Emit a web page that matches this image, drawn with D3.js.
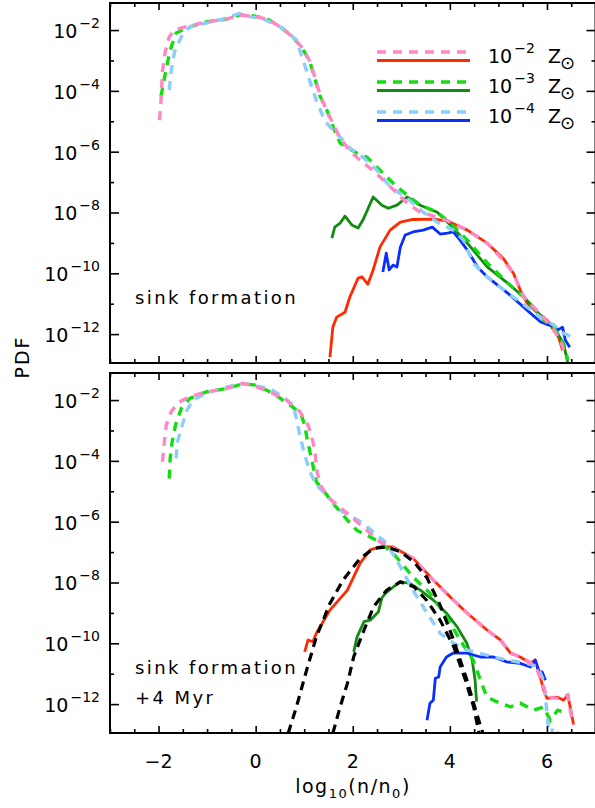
<!DOCTYPE html>
<html><head><meta charset="utf-8">
<script src="https://cdn.jsdelivr.net/npm/d3@7"></script>
<style>
body{margin:0;background:#fff}
svg{display:block}
text{font-family:"DejaVu Sans",sans-serif;fill:#000}
</style>
</head><body>
<svg id="c" width="595" height="808"></svg>
<script>
// ---------------- DATA (x = log10(n/n0), y = log10(PDF)) ----------------
const xMajorTicks = [-2, 0, 2, 4, 6];
const yMajorExps = [-2, -4, -6, -8, -10, -12];
const yMinorExps = [-3, -5, -7, -9, -11];
const legendExps = ["−2", "−3", "−4"];
const panelLabels = [["sink formation"], ["sink formation", "+4 Myr"]];

const topDash2 = [[-1.98,-4.96],[-1.95,-4.36],[-1.92,-3.37],[-1.86,-2.71],[-1.78,-2.22],[-1.67,-2.0],[-1.51,-1.92],[-1.01,-1.73],[-0.60,-1.64],[-0.33,-1.51],[-0.06,-1.54],[0.23,-1.64],[0.50,-1.89],[0.76,-2.22],[0.97,-2.60],[1.12,-3.04],[1.22,-3.55],[1.32,-4.10],[1.45,-4.60],[1.60,-5.10],[1.74,-5.55],[1.94,-5.98],[2.15,-6.28],[2.40,-6.60],[2.63,-6.93],[2.90,-7.35],[3.12,-7.69],[3.39,-7.99],[3.80,-8.18],[4.07,-8.35],[4.42,-8.64],[4.77,-9.01],[5.10,-9.57],[5.31,-10.0],[5.52,-10.78],[5.72,-11.11],[5.93,-11.44],[6.14,-11.87],[6.28,-12.2],[6.34,-12.53]];
const topSolid2 = [[1.53,-12.76],[1.59,-11.77],[1.67,-11.44],[1.84,-11.28],[1.94,-10.78],[2.11,-10.16],[2.19,-10.12],[2.31,-10.36],[2.42,-9.89],[2.56,-9.14],[2.77,-8.58],[2.98,-8.32],[3.24,-8.23],[3.66,-8.22],[3.95,-8.28],[4.36,-8.58],[4.77,-9.01],[5.10,-9.51],[5.31,-10.0],[5.45,-10.55],[5.59,-10.98],[5.79,-11.28],[6.0,-11.54],[6.14,-11.87],[6.24,-12.1],[6.32,-12.53]];
const topDash3 = [[-1.95,-4.19],[-1.86,-3.42],[-1.76,-2.66],[-1.64,-2.10],[-1.43,-1.93],[-1.01,-1.73],[-0.60,-1.64],[-0.33,-1.50],[-0.06,-1.53],[0.23,-1.63],[0.50,-1.88],[0.76,-2.22],[0.97,-2.62],[1.12,-3.06],[1.22,-3.6],[1.32,-4.15],[1.47,-4.65],[1.60,-5.2],[1.74,-5.72],[2.09,-6.05],[2.29,-6.18],[2.56,-6.61],[2.83,-7.03],[3.12,-7.43],[3.39,-7.76],[3.74,-7.99],[4.01,-8.35],[4.36,-8.91],[4.77,-9.66],[5.19,-10.32],[5.52,-10.78],[5.72,-11.11],[5.93,-11.54],[6.14,-11.77],[6.34,-12.3],[6.43,-12.86]];
const topSolid3 = [[1.57,-8.84],[1.63,-8.48],[1.74,-8.35],[1.84,-8.12],[1.98,-8.41],[2.11,-8.51],[2.21,-8.25],[2.42,-7.49],[2.60,-7.76],[2.73,-7.86],[2.91,-7.76],[3.12,-7.49],[3.39,-7.76],[3.74,-7.99],[4.01,-8.41],[4.36,-9.01],[4.77,-9.79],[5.19,-10.32],[5.52,-10.78],[5.72,-11.11],[5.93,-11.54],[6.14,-11.77],[6.34,-12.3],[6.43,-12.95]];
const topDash4 = [[-1.78,-3.97],[-1.74,-3.37],[-1.67,-2.71],[-1.53,-2.22],[-1.36,-1.89],[-1.02,-1.77],[-0.68,-1.64],[-0.33,-1.45],[-0.12,-1.56],[0.14,-1.62],[0.56,-1.94],[0.84,-2.33],[1.01,-3.15],[1.12,-3.70],[1.26,-4.36],[1.43,-5.0],[1.59,-5.29],[1.74,-5.52],[1.94,-5.88],[2.21,-6.18],[2.50,-6.61],[2.77,-7.16],[3.12,-7.53],[3.45,-7.99],[3.74,-8.32],[4.07,-8.58],[4.28,-8.91],[4.48,-9.66],[4.77,-10.12],[5.19,-10.65],[5.59,-11.11],[5.87,-11.44],[6.14,-11.7],[6.34,-11.97],[6.53,-12.1]];
const topSolid4 = [[2.62,-9.96],[2.69,-9.34],[2.75,-9.89],[2.83,-9.73],[2.91,-9.79],[2.98,-9.14],[3.08,-8.74],[3.24,-8.64],[3.45,-8.58],[3.64,-8.48],[3.80,-8.71],[3.95,-8.68],[4.07,-8.64],[4.21,-8.91],[4.36,-9.24],[4.57,-9.79],[4.77,-10.12],[5.19,-10.65],[5.66,-11.31],[5.87,-11.6],[6.03,-11.7],[6.14,-11.7],[6.22,-11.87],[6.32,-11.77],[6.38,-12.2],[6.47,-12.43]];

const botDash2 = [[-1.92,-4.03],[-1.88,-3.37],[-1.84,-2.82],[-1.74,-2.38],[-1.57,-2.06],[-1.36,-1.89],[-1.02,-1.73],[-0.60,-1.62],[-0.26,-1.45],[0.01,-1.56],[0.36,-1.78],[0.63,-2.0],[0.91,-2.38],[1.08,-2.82],[1.18,-3.37],[1.22,-3.7],[1.27,-4.4],[1.35,-4.85],[1.53,-5.25],[1.89,-5.73],[2.21,-6.17],[2.56,-6.66],[2.83,-6.87],[3.24,-7.20],[3.66,-7.92],[4.01,-8.48],[4.36,-9.01],[4.77,-9.57],[5.04,-9.89],[5.25,-10.32],[5.45,-10.45],[5.66,-10.63],[5.80,-10.88],[5.90,-11.31],[6.0,-11.77],[6.22,-11.81],[6.43,-11.70],[6.49,-12.3],[6.55,-12.69]];
const botSolid2 = [[1.01,-10.28],[1.08,-9.89],[1.18,-9.95],[1.25,-9.67],[1.53,-8.91],[1.89,-8.25],[2.15,-7.37],[2.36,-6.93],[2.56,-6.83],[2.83,-6.83],[3.24,-7.20],[3.66,-7.92],[4.01,-8.48],[4.36,-9.01],[4.77,-9.57],[5.04,-9.89],[5.25,-10.32],[5.45,-10.45],[5.66,-10.66],[5.76,-10.55],[5.83,-10.88],[5.93,-11.54],[6.0,-11.81],[6.22,-11.77],[6.34,-11.87],[6.43,-11.70],[6.55,-12.69]];
const botDash3 = [[-1.78,-4.58],[-1.76,-3.92],[-1.72,-3.37],[-1.65,-2.82],[-1.53,-2.27],[-1.36,-1.95],[-1.02,-1.73],[-0.60,-1.62],[-0.26,-1.46],[0.01,-1.51],[0.36,-1.78],[0.76,-2.22],[0.94,-2.49],[1.01,-2.82],[1.07,-3.37],[1.15,-3.92],[1.25,-4.69],[1.47,-5.13],[1.53,-5.28],[1.89,-5.95],[2.08,-6.28],[2.49,-6.61],[2.83,-7.03],[3.24,-7.82],[3.59,-8.35],[3.93,-9.13],[4.21,-9.89],[4.48,-10.55],[4.63,-11.21],[4.76,-11.76],[4.96,-11.92],[5.25,-12.09],[5.45,-11.97],[5.72,-12.2],[5.93,-12.1],[6.07,-12.53],[6.22,-12.2],[6.43,-12.3]];
const botSolid3 = [[2.02,-10.28],[2.09,-9.79],[2.23,-9.29],[2.36,-9.24],[2.53,-8.96],[2.60,-8.51],[2.67,-8.36],[2.84,-8.14],[2.98,-7.98],[3.18,-8.03],[3.39,-8.25],[3.66,-8.58],[3.93,-9.01],[4.15,-9.46],[4.35,-10.0],[4.46,-10.55],[4.52,-11.21],[4.55,-11.92]];
const botDash4 = [[-1.64,-3.92],[-1.61,-3.37],[-1.53,-2.93],[-1.43,-2.38],[-1.29,-2.0],[-1.02,-1.78],[-0.68,-1.61],[-0.33,-1.45],[-0.06,-1.51],[0.29,-1.62],[0.56,-1.89],[0.77,-2.16],[0.84,-2.60],[0.91,-3.15],[1.01,-3.81],[1.12,-4.36],[1.25,-4.80],[1.47,-5.13],[1.74,-5.62],[2.21,-6.05],[2.70,-6.71],[2.98,-7.48],[3.24,-8.25],[3.53,-9.01],[3.80,-9.67],[4.07,-9.99],[4.35,-10.22],[4.76,-10.39],[5.17,-10.55],[5.59,-10.66],[5.80,-10.77],[5.93,-11.21],[5.97,-11.77],[6.0,-12.3],[6.03,-12.75],[6.07,-13.3],[6.12,-12.75],[6.17,-13.3],[6.22,-12.9],[6.25,-13.3]];
const botSolid4 = [[3.53,-12.53],[3.59,-11.97],[3.66,-11.87],[3.70,-11.15],[3.77,-11.11],[3.80,-10.78],[3.93,-10.45],[4.07,-10.32],[4.35,-10.32],[4.63,-10.45],[4.90,-10.45],[5.17,-10.61],[5.45,-10.66],[5.66,-10.78],[5.76,-10.55],[5.83,-10.94],[5.90,-10.94],[5.97,-11.21]];
const fit2 = [[0.67,-12.96],[0.84,-12.09],[1.05,-10.88],[1.25,-9.79],[1.53,-8.69],[1.80,-7.92],[2.15,-7.21],[2.43,-6.88],[2.70,-6.83],[2.98,-6.99],[3.26,-7.32],[3.53,-7.85],[3.80,-8.75],[4.08,-9.9],[4.35,-11.2],[4.55,-12.3],[4.68,-12.96]];
const fit3 = [[1.59,-12.96],[1.74,-12.09],[1.89,-11.32],[2.02,-10.44],[2.23,-9.57],[2.43,-8.80],[2.70,-8.25],[2.98,-7.98],[3.26,-8.14],[3.53,-8.6],[3.80,-9.24],[4.08,-10.11],[4.32,-11.21],[4.49,-12.09],[4.60,-12.96]];

// ---------------- STYLE / LAYOUT ----------------
const COL = {pink:"#ff88c4", red:"#ff2a00", lgreen:"#11dd11", dgreen:"#118c11", lblue:"#8ccdfa", blue:"#0a2eff", black:"#000"};
const xLeft = 110, xRight = 595.5;
const panels = [{y0:3, y1:363}, {y0:373, y1:733}];
const svg = d3.select("#c");
const x = d3.scaleLinear().domain([-3, 7]).range([xLeft, xRight]);
const P = e => Math.pow(10, e);

const panelSeries = [
  {solid:[[topSolid2,COL.red],[topSolid3,COL.dgreen],[topSolid4,COL.blue]],
   dash:[[topDash3,COL.lgreen],[topDash4,COL.lblue],[topDash2,COL.pink]], fits:[]},
  {solid:[[botSolid2,COL.red],[botSolid3,COL.dgreen],[botSolid4,COL.blue]],
   dash:[[botDash3,COL.lgreen],[botDash4,COL.lblue],[botDash2,COL.pink]], fits:[fit2, fit3]}
];

panels.forEach((pn, i) => {
  const y = d3.scaleLog().domain([P(-12.95), P(-1.11)]).range([pn.y1, pn.y0]);
  const g = svg.append("g");
  const cid = "clip" + i;
  svg.append("clipPath").attr("id", cid).append("rect")
    .attr("x", xLeft).attr("y", pn.y0).attr("width", xRight - xLeft).attr("height", pn.y1 - pn.y0);
  const line = d3.line().x(d => x(d[0])).y(d => y(P(d[1])));
  const plot = g.append("g").attr("clip-path", `url(#${cid})`);
  const S = panelSeries[i];
  S.solid.forEach(([d, c]) => plot.append("path").attr("d", line(d)).attr("fill","none")
    .attr("stroke", c).attr("stroke-width", 2.8).attr("stroke-linejoin","round"));
  S.dash.forEach(([d, c]) => plot.append("path").attr("d", line(d)).attr("fill","none")
    .attr("stroke", c).attr("stroke-width", 3.4).attr("stroke-dasharray","9,7"));
  S.fits.forEach(d => plot.append("path").attr("d", line(d)).attr("fill","none")
    .attr("stroke", COL.black).attr("stroke-width", 3.2).attr("stroke-dasharray","9,6"));

  const xMinor = d3.range(-3, 7.01, 0.5).filter(v => !xMajorTicks.includes(v));
  const styleAxis = sel => { sel.select(".domain").remove(); sel.selectAll("line").attr("stroke","#000").attr("stroke-width",1.6); };
  g.append("g").attr("transform",`translate(0,${pn.y1})`)
    .call(d3.axisBottom(x).tickValues(xMajorTicks).tickSize(-7).tickFormat("")).call(styleAxis);
  g.append("g").attr("transform",`translate(0,${pn.y1})`)
    .call(d3.axisBottom(x).tickValues(xMinor).tickSize(-4).tickFormat("")).call(styleAxis);
  g.append("g").attr("transform",`translate(0,${pn.y0})`)
    .call(d3.axisTop(x).tickValues(xMajorTicks).tickSize(-7).tickFormat("")).call(styleAxis);
  g.append("g").attr("transform",`translate(0,${pn.y0})`)
    .call(d3.axisTop(x).tickValues(xMinor).tickSize(-4).tickFormat("")).call(styleAxis);
  g.append("g").attr("transform",`translate(${xLeft},0)`)
    .call(d3.axisLeft(y).tickValues(yMajorExps.map(P)).tickSize(-9).tickFormat("")).call(styleAxis);
  g.append("g").attr("transform",`translate(${xLeft},0)`)
    .call(d3.axisLeft(y).tickValues(yMinorExps.map(P)).tickSize(-4).tickFormat("")).call(styleAxis);
  g.append("g").attr("transform",`translate(${xRight},0)`)
    .call(d3.axisRight(y).tickValues(yMajorExps.map(P)).tickSize(-9).tickFormat("")).call(styleAxis);
  g.append("g").attr("transform",`translate(${xRight},0)`)
    .call(d3.axisRight(y).tickValues(yMinorExps.map(P)).tickSize(-4).tickFormat("")).call(styleAxis);

  g.append("rect").attr("x", xLeft).attr("y", pn.y0).attr("width", xRight - xLeft).attr("height", pn.y1 - pn.y0)
    .attr("fill","none").attr("stroke","#000").attr("stroke-width",2);

  yMajorExps.forEach(e => {
    const t = g.append("text").attr("x", 100).attr("y", y(P(e)) + 8).attr("text-anchor","end").attr("font-size",19);
    t.append("tspan").text("10");
    t.append("tspan").attr("dx", 2).attr("dy", -10).attr("font-size", 14).text("−" + (-e));
  });

  panelLabels[i].forEach((s, k) => {
    g.append("text").attr("x", 135).attr("y", pn.y0 + 301 + k * 30).attr("font-size", 18)
      .attr("letter-spacing", 2.4).text(s);
  });

  if (i === 1) {
    xMajorTicks.forEach(v => {
      g.append("text").attr("x", x(v)).attr("y", 768).attr("text-anchor","middle").attr("font-size",19)
        .text(v < 0 ? "−" + (-v) : String(v));
    });
  }
});

const xt = svg.append("text").attr("x", 353).attr("y", 793).attr("text-anchor","middle").attr("font-size",19).attr("letter-spacing",1.5);
xt.append("tspan").text("log");
xt.append("tspan").attr("dy", 5).attr("font-size", 13).text("10");
xt.append("tspan").attr("dy", -5).text("(n/n");
xt.append("tspan").attr("dy", 5).attr("font-size", 13).text("0");
xt.append("tspan").attr("dy", -5).text(")");

svg.append("text").attr("transform","translate(29,357) rotate(-90)").attr("text-anchor","middle")
  .attr("font-size",19).attr("letter-spacing",2).text("PDF");

const legendRows = [[COL.pink, COL.red], [COL.lgreen, COL.dgreen], [COL.lblue, COL.blue]];
legendRows.forEach(([cd, cs], k) => {
  const yy = 52 + k * 30;
  svg.append("line").attr("x1", 377).attr("x2", 470).attr("y1", yy).attr("y2", yy)
    .attr("stroke", cd).attr("stroke-width", 3.4).attr("stroke-dasharray","9,7");
  svg.append("line").attr("x1", 377).attr("x2", 470).attr("y1", yy + 8.5).attr("y2", yy + 8.5)
    .attr("stroke", cs).attr("stroke-width", 3);
  const t = svg.append("text").attr("x", 488).attr("y", yy + 11).attr("font-size", 19);
  t.append("tspan").text("10");
  t.append("tspan").attr("dx", 2).attr("dy", -10).attr("font-size", 14).text(legendExps[k]);
  svg.append("text").attr("x", 548).attr("y", yy + 11).attr("font-size", 19).text("Z");
  svg.append("text").attr("x", 560).attr("y", yy + 17).attr("font-size", 18).text("⊙");
});
</script>
</body></html>
